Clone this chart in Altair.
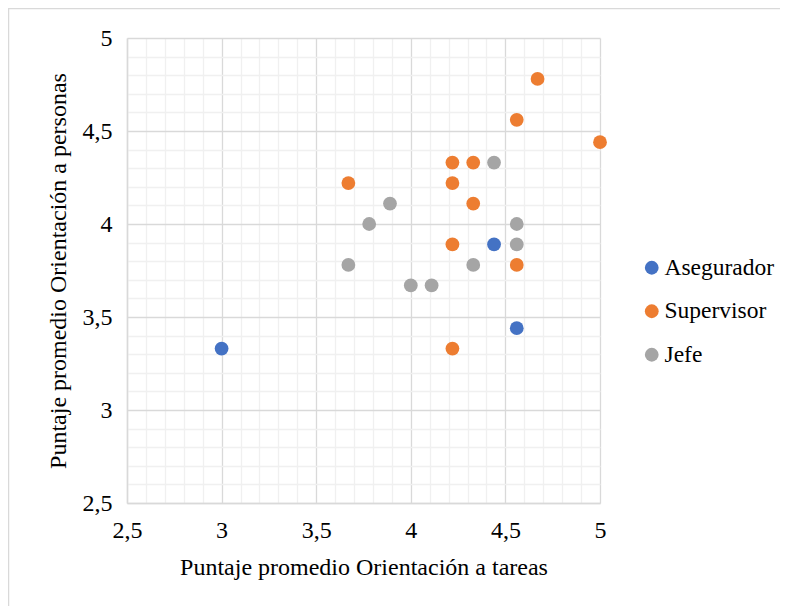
import altair as alt
import pandas as pd

# data (x = Orientación a tareas, y = Orientación a personas)
aseg_x = [3.00, 4.44, 4.56]
aseg_y = [3.33, 3.89, 3.44]

sup_x = [3.67, 4.22, 4.33, 4.22, 4.33, 4.22, 4.56, 4.67, 5.00, 4.56, 4.22]
sup_y = [4.22, 4.33, 4.33, 4.22, 4.11, 3.89, 4.56, 4.78, 4.44, 3.78, 3.33]

jefe_x = [4.44, 3.89, 3.78, 3.67, 4.00, 4.11, 4.33, 4.56, 4.56]
jefe_y = [4.33, 4.11, 4.00, 3.78, 3.67, 3.67, 3.78, 4.00, 3.89]

series = ["Asegurador", "Supervisor", "Jefe"]
colors = ["#4472C4", "#ED7D31", "#A5A5A5"]

axis_values = [round(2.5 + 0.1 * i, 1) for i in range(26)]

rows = []
for name, xs, ys in [("Asegurador", aseg_x, aseg_y),
                     ("Supervisor", sup_x, sup_y),
                     ("Jefe", jefe_x, jefe_y)]:
    for a, b in zip(xs, ys):
        rows.append({"serie": name, "tareas": a, "personas": b})
df = pd.DataFrame(rows)

FONT = "'Liberation Serif', 'Times New Roman', serif"
major_test = "abs(datum.value*2 - round(datum.value*2)) < 0.001"
label_expr = ("abs(datum.value*2 - round(datum.value*2)) < 0.001 ? "
              "replace(format(datum.value, '.1~f'), '.', ',') : ''")

def make_axis(title, pad, tpad):
    return alt.Axis(
        title=title,
        values=axis_values,
        labelExpr=label_expr,
        ticks=False,
        grid=True,
        gridColor={"condition": {"test": major_test, "value": "#D9D9D9"}, "value": "#F0F0F0"},
        gridWidth=1.3,
        domainColor="#D9D9D9",
        domainWidth=1.5,
        labelFont=FONT,
        labelFontSize=24,
        labelColor="#000000",
        labelPadding=pad,
        titleFont=FONT,
        titleFontSize=24,
        titleFontWeight="normal",
        titleColor="#000000",
        titlePadding=tpad,
        labelOverlap=False,
        labelFlush=False,
    )

W, H = 473, 465

border = alt.Chart(pd.DataFrame({"k": [0]})).mark_rect(
    fill=None, stroke="#D9D9D9", strokeWidth=1.5
).encode(
    x=alt.value(-118.5), x2=alt.value(W + 400),
    y=alt.value(-29.5), y2=alt.value(H + 400),
)

points = alt.Chart(df).mark_point(filled=True, size=190, opacity=1).encode(
    x=alt.X("tareas:Q", scale=alt.Scale(domain=[2.5, 5], nice=False, zero=False),
            axis=make_axis("Puntaje promedio Orientación a tareas", 15, 13)),
    y=alt.Y("personas:Q", scale=alt.Scale(domain=[2.5, 5], nice=False, zero=False),
            axis=make_axis("Puntaje promedio Orientación a personas", 15, 12)),
    color=alt.Color("serie:N",
                    scale=alt.Scale(domain=series, range=colors),
                    sort=series,
                    legend=alt.Legend(
                        title=None, orient="none", legendX=513, legendY=218,
                        labelFont=FONT, labelFontSize=23.5, labelColor="#000000",
                        symbolType="circle", symbolSize=190, rowPadding=18.5,
                        labelOffset=1, symbolStrokeWidth=0,
                    )),
    order=alt.Order("ord:Q"),
).transform_calculate(
    ord="datum.serie == 'Asegurador' ? 0 : (datum.serie == 'Supervisor' ? 1 : 2)"
)

chart = alt.layer(border, points).properties(
    width=W, height=H,
    autosize=alt.AutoSizeParams(type="none"),
    padding={"left": 119, "top": 30, "right": 180, "bottom": 103},
).configure(
    background="#FFFFFF",
    font=FONT,
    style={"guide-label": {"font": FONT}, "guide-title": {"font": FONT}},
).configure_view(stroke=None)

chart.save("out.html", embed_options={"renderer": "svg", "actions": False})
